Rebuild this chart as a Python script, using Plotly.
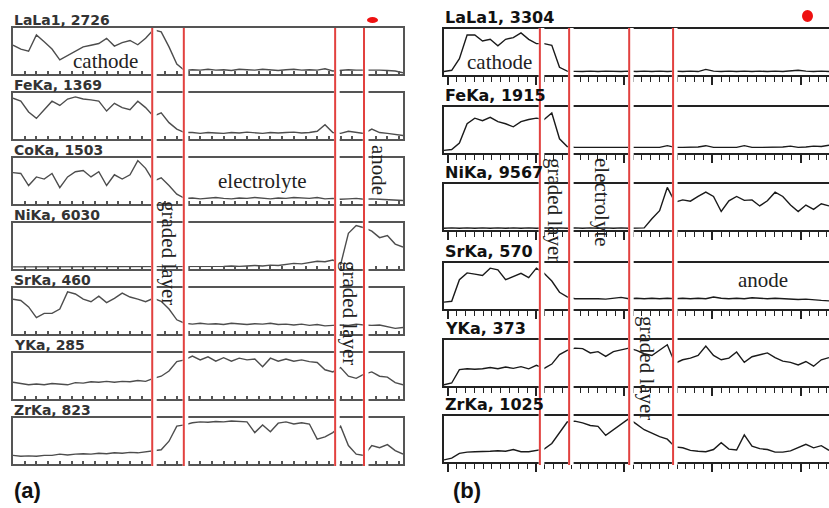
import numpy as np
import plotly.graph_objects as go

W, H = 829, 508

# ---------------- data (normalised intensity, 0 = baseline, 1 = box top) ----------------
# panel (a): positions 0..100 across the scan, values sampled every 2 units
LA_A = [0.64,0.55,0.50,0.88,0.72,0.55,0.30,0.40,0.50,0.60,0.64,0.68,0.80,0.62,0.70,0.75,0.65,0.80,1.00,0.95,0.60,0.20,0.05,
        0.07,0.06,0.08,0.06,0.07,0.05,0.08,0.07,0.06,0.08,0.07,0.05,0.07,0.08,0.06,0.07,0.06,0.09,0.04,0.06,0.07,0.06,0.06,0.07,0.06,0.05,0.04,0.00]
FE_A = [0.92,0.85,0.60,0.45,0.65,0.85,0.75,0.90,0.95,0.90,0.88,0.85,0.62,0.80,0.70,0.65,0.85,0.70,0.50,0.58,0.35,0.20,
        0.12,0.12,0.10,0.12,0.11,0.10,0.12,0.11,0.13,0.12,0.10,0.12,0.11,0.12,0.13,0.11,0.12,0.15,0.30,0.12,0.10,0.15,0.12,0.10,0.20,0.12,0.10,0.08,0.05]
CO_A = [0.70,0.68,0.40,0.60,0.55,0.68,0.35,0.60,0.72,0.75,0.60,0.72,0.40,0.65,0.55,0.65,0.98,0.80,0.50,0.58,0.40,0.20,0.10,
        0.11,0.09,0.10,0.12,0.10,0.09,0.11,0.10,0.12,0.10,0.09,0.11,0.10,0.12,0.11,0.10,0.12,0.09,0.10,0.08,0.09,0.10,0.08,0.09,0.08,0.07,0.06,0.05]
NI_A = [0.02,0.02,0.02,0.02,0.02,0.02,0.02,0.02,0.02,0.02,0.02,0.02,0.02,0.02,0.02,0.02,0.02,0.02,0.02,0.02,
        0.02,0.02,0.03,0.02,0.03,0.02,0.03,0.03,0.04,0.03,0.04,0.05,0.04,0.06,0.05,0.07,0.10,0.09,
        0.12,0.15,0.14,0.18,0.07,0.80,0.98,0.93,0.85,0.70,0.75,0.55,0.48]
SR_A = [0.78,0.75,0.60,0.35,0.45,0.45,0.55,0.95,0.90,0.78,0.72,0.85,0.70,0.80,0.92,0.83,0.78,0.72,0.80,0.73,0.55,0.30,0.22,
        0.20,0.22,0.20,0.21,0.19,0.22,0.20,0.19,0.21,0.20,0.22,0.19,0.20,0.18,0.20,0.17,0.19,0.16,0.17,0.18,0.17,0.20,0.18,0.17,0.18,0.14,0.10,0.12]
Y_A = [0.36,0.33,0.30,0.32,0.30,0.33,0.31,0.30,0.35,0.34,0.37,0.36,0.38,0.36,0.38,0.37,0.40,0.38,0.45,0.50,0.62,0.84,0.88,
       0.97,0.88,0.95,0.85,0.93,0.85,0.92,0.88,0.90,0.72,0.92,0.85,0.90,0.85,0.88,0.84,0.82,0.65,0.60,0.70,0.50,0.45,0.55,0.60,0.50,0.48,0.35,0.30]
ZR_A = [0.17,0.15,0.16,0.15,0.17,0.17,0.20,0.18,0.20,0.21,0.20,0.22,0.21,0.23,0.22,0.24,0.23,0.25,0.28,0.30,0.50,0.85,0.88,
        0.93,0.95,0.94,0.96,0.95,0.97,0.96,0.95,0.70,0.88,0.72,0.92,0.95,0.90,0.93,0.90,0.55,0.60,0.70,0.85,0.40,0.20,0.17,0.40,0.35,0.42,0.28,0.20]

# panel (b)
LA_B = [0.05,0.08,0.35,0.90,0.90,0.76,0.80,0.65,0.80,0.84,0.95,0.80,0.70,0.70,0.66,0.15,0.06,0.05,
        0.05,0.06,0.05,0.06,0.05,0.05,0.06,0.05,0.06,0.05,0.06,0.05,0.06,0.05,0.06,0.05,0.10,0.06,0.05,0.06,
        0.05,0.06,0.05,0.06,0.05,0.06,0.05,0.06,0.08,0.06,0.05,0.06,0.05]
FE_B = [0.03,0.05,0.20,0.65,0.78,0.72,0.80,0.70,0.65,0.58,0.70,0.75,0.78,0.75,0.90,0.30,0.12,0.10,
        0.10,0.10,0.11,0.10,0.10,0.10,0.11,0.10,0.10,0.10,
        0.10,0.14,0.10,0.10,0.10,0.11,0.14,0.10,0.10,0.10,
        0.10,0.14,0.10,0.10,0.10,0.10,0.11,0.13,0.10,0.11,0.13,0.12,0.15]
NI_B = [0.01,0.02,0.01,0.02,0.01,0.02,0.01,0.02,0.01,0.02,0.01,0.02,0.01,0.02,0.01,0.02,0.01,0.02,0.01,0.02,
        0.01,0.02,0.01,0.02,0.01,0.02,0.02,0.23,0.42,0.96,0.62,0.67,0.64,0.75,0.85,0.75,0.40,0.65,0.75,0.66,
        0.67,0.53,0.65,0.85,0.75,0.55,0.40,0.55,0.45,0.58,0.53]
SR_B = [0.13,0.15,0.65,0.81,0.78,0.75,0.92,0.88,0.65,0.72,0.80,0.70,0.92,0.80,0.62,0.36,0.25,0.21,
        0.21,0.22,0.21,0.20,0.22,0.24,0.21,0.22,0.21,0.22,
        0.21,0.22,0.21,0.22,0.21,0.22,0.21,0.25,0.22,0.21,
        0.22,0.21,0.23,0.22,0.21,0.22,0.21,0.20,0.19,0.20,0.18,0.17,0.16]
Y_B = [0.00,0.04,0.35,0.37,0.36,0.37,0.40,0.37,0.41,0.38,0.42,0.37,0.45,0.38,0.48,0.70,0.80,0.85,0.84,0.74,0.77,0.66,0.77,0.81,0.85,
       0.80,0.72,0.68,0.80,0.93,0.50,0.58,0.62,0.68,0.90,0.68,0.58,0.62,0.76,0.52,0.65,0.70,0.74,0.63,0.55,0.52,0.46,0.54,0.43,0.58,0.63]
ZR_B = [0.02,0.06,0.17,0.20,0.21,0.21,0.22,0.23,0.22,0.26,0.21,0.21,0.24,0.27,0.40,0.65,0.90,0.92,0.88,0.82,0.80,0.59,0.72,0.86,0.98,
        0.85,0.72,0.64,0.56,0.50,0.32,0.30,0.24,0.22,0.21,0.26,0.42,0.27,0.25,0.60,0.34,0.28,0.26,0.20,0.20,0.23,0.31,0.38,0.30,0.35,0.24]

LABELS_A = ["LaLa1, 2726", "FeKa, 1369", "CoKa, 1503", "NiKa, 6030", "SrKa, 460", "YKa, 285", "ZrKa, 823"]
LABELS_B = ["LaLa1, 3304", "FeKa, 1915", "NiKa, 9567", "SrKa, 570", "YKa, 373", "ZrKa, 1025"]
SERIES_A = [LA_A, FE_A, CO_A, NI_A, SR_A, Y_A, ZR_A]
SERIES_B = [LA_B, FE_B, NI_B, SR_B, Y_B, ZR_B]
RED_A = [35.7, 43.8, 82.6, 90.0]   # layer boundaries, scan units
RED_B = [24.9, 32.5, 48.1, 59.5]

# ---------------- layout geometry (pixels) ----------------
A_LEFT, A_RIGHT = 13, 403
B_LEFT = 444
TOPS_A = [28, 93, 158, 223, 288, 353, 418]
TOPS_B = [29, 107, 184, 263, 340, 416]
BOX_H = 46


def px(x):
    return x / W


def py(y):
    return 1 - y / H


fig = go.Figure()
layout = dict(width=W, height=H, margin=dict(l=0, r=0, t=0, b=0),
              paper_bgcolor="white", plot_bgcolor="white", showlegend=False)
annotations = []
shapes = []

idx = 0
panels = [
    (SERIES_A, LABELS_A, TOPS_A, [px(A_LEFT), px(A_RIGHT)], "#4d4d4d", "#555555", 14, "#333333", True),
    (SERIES_B, LABELS_B, TOPS_B, [px(B_LEFT), 1.0], "#1a1a1a", "#222222", 16, "#111111", False),
]
first_axis = []
for series, labels, tops, xdom, lcol, acol, lfs, lab_col, is_a in panels:
    first_axis.append(idx + 1)
    for vals, lab, top in zip(series, labels, tops):
        idx += 1
        sfx = "" if idx == 1 else str(idx)
        x = np.linspace(0, 100, len(vals))
        fig.add_trace(go.Scatter(x=x, y=vals, mode="lines",
                                 line=dict(color=lcol, width=1.4),
                                 xaxis="x" + sfx, yaxis="y" + sfx, hoverinfo="skip"))
        ydom = [py(top + BOX_H), py(top)]
        xa = dict(domain=xdom, range=[0, 100], anchor="y" + sfx, showline=True, mirror=True,
                  linecolor=acol, linewidth=1.5, showgrid=False, zeroline=False,
                  showticklabels=False, fixedrange=True)
        if is_a:
            xa.update(ticks="inside", ticklen=3, tickwidth=1.5, tickcolor=acol, tick0=0, dtick=3)
        else:
            xa.update(ticks="outside", ticklen=8, tickwidth=1.5, tickcolor=acol, tick0=1, dtick=22.9,
                      minor=dict(ticks="outside", ticklen=5, tickwidth=1.3, tickcolor=acol,
                                 tick0=1, dtick=2.29, showgrid=False))
        ya = dict(domain=ydom, range=[-0.03, 1.04], anchor="x" + sfx, showline=True, mirror=is_a,
                  linecolor=acol, linewidth=1.5, showgrid=False, zeroline=False,
                  showticklabels=False, ticks="", fixedrange=True)
        layout["xaxis" + sfx] = xa
        layout["yaxis" + sfx] = ya
        annotations.append(dict(text="<b>%s</b>" % lab, xref="paper", yref="paper",
                                x=xdom[0] - px(1), y=py(top - (8 if is_a else 12)),
                                xanchor="left", yanchor="middle", showarrow=False,
                                font=dict(family="DejaVu Sans", size=lfs, color=lab_col)))

# boundaries: white gap + red line
for reds, ax, ytop, ybot, unit in [(RED_A, first_axis[0], 28, 466, 100 / 390),
                                   (RED_B, first_axis[1], 28, 465, 100 / 385)]:
    xr = "x" if ax == 1 else "x%d" % ax
    for r in reds:
        shapes.append(dict(type="rect", xref=xr, yref="paper", x0=r - 1.2 * unit, x1=r + 4.5 * unit,
                           y0=py(ybot), y1=py(ytop), fillcolor="white", line=dict(width=0), layer="above"))
        shapes.append(dict(type="line", xref=xr, yref="paper", x0=r, x1=r,
                           y0=py(ybot), y1=py(ytop), line=dict(color="#e2413f", width=2), layer="above"))

# red markers
shapes.append(dict(type="circle", xref="paper", yref="paper", x0=px(367), x1=px(378), y0=py(23), y1=py(17),
                   fillcolor="#ee1111", line=dict(width=0)))
shapes.append(dict(type="circle", xref="paper", yref="paper", x0=px(802), x1=px(813), y0=py(22), y1=py(10),
                   fillcolor="#ee1111", line=dict(width=0)))

serif = dict(family="Liberation Serif", size=21, color="#222222")
for text, x, y, ang in [("cathode", 105, 61, 0), ("electrolyte", 262, 181, 0),
                        ("graded layer", 169, 253, 90), ("graded layer", 350, 313, 90),
                        ("anode", 379, 170, 90),
                        ("cathode", 500, 62, 0), ("graded layer", 555, 210, 90),
                        ("electrolyte", 602, 202, 90), ("graded layer", 647, 368, 90),
                        ("anode", 763, 280, 0)]:
    annotations.append(dict(text=text, xref="paper", yref="paper", x=px(x), y=py(y),
                            xanchor="center", yanchor="middle", textangle=ang, showarrow=False,
                            font=serif))

for text, x in [("(a)", 27), ("(b)", 467)]:
    annotations.append(dict(text="<b>%s</b>" % text, xref="paper", yref="paper", x=px(x), y=py(490),
                            xanchor="center", yanchor="middle", showarrow=False,
                            font=dict(family="Liberation Sans", size=22, color="#111111")))

layout["annotations"] = annotations
layout["shapes"] = shapes
fig.update_layout(**layout)
fig.write_html("out.html")
